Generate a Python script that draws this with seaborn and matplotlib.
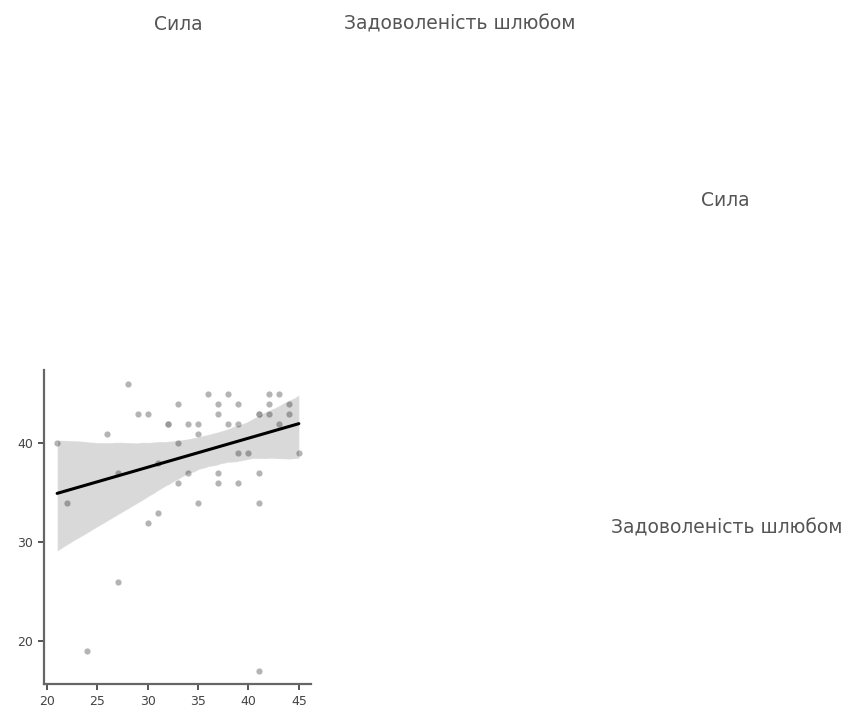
import matplotlib
matplotlib.use('Agg')
import matplotlib.pyplot as plt
import seaborn as sns
import pandas as pd

# Values (Сила vs Задоволеність шлюбом)
strength = [21, 28, 26, 29, 30, 32, 32, 33, 33, 34, 35, 35, 36, 37, 37, 38,
            38, 39, 39, 39, 40, 41, 41, 42, 43, 42, 42, 43, 44, 44, 45, 31,
            27, 34, 37, 41, 33, 37, 39, 22, 35, 41, 31, 30, 27, 24, 41]
satisfaction = [40, 46, 41, 43, 43, 42, 42, 44, 40, 42, 42, 41, 45, 44, 43, 45,
                42, 44, 42, 39, 39, 43, 43, 45, 45, 44, 43, 42, 44, 43, 39, 38,
                37, 37, 37, 37, 36, 36, 36, 34, 34, 34, 33, 32, 26, 19, 17]
var_names = ['Сила', 'Задоволеність шлюбом']
x_ticks = [20, 25, 30, 35, 40, 45]
y_ticks = [20, 30, 40]

df = pd.DataFrame({var_names[0]: strength, var_names[1]: satisfaction})

sns.set_style('white')
plt.rcParams['font.family'] = ['DejaVu Sans']

fig = plt.figure(figsize=(8.5, 7.13), dpi=100)

# lower-left cell of the correlation matrix
ax = fig.add_axes([0.0518, 0.0407, 0.314, 0.440])
sns.regplot(data=df, x=var_names[0], y=var_names[1], ax=ax, color='black',
            seed=3,
            scatter_kws={'color': '#8c8c8c', 'alpha': 0.65, 's': 20, 'linewidths': 0},
            line_kws={'color': 'black', 'linewidth': 2.2})
ax.set_xlim(19.7, 46.2)
ax.set_ylim(15.7, 47.4)
ax.set_xticks(x_ticks)
ax.set_yticks(y_ticks)
ax.set_xlabel('')
ax.set_ylabel('')
for side in ['top', 'right']:
    ax.spines[side].set_visible(False)
for side in ['left', 'bottom']:
    ax.spines[side].set_color('#666666')
    ax.spines[side].set_linewidth(1.6)
ax.tick_params(axis='both', which='both', direction='out', length=4, width=1.4,
               color='#555555', labelsize=9, labelcolor='#444444',
               left=True, bottom=True, pad=4)

# column labels along the top, row labels on the right
label_kw = dict(fontsize=13.5, color='#555555', ha='center', va='center')
fig.text(178 / 850, 1 - 24 / 713, var_names[0], **label_kw)
fig.text(460 / 850, 1 - 24 / 713, var_names[1], **label_kw)
fig.text(725 / 850, 1 - 201 / 713, var_names[0], **label_kw)
fig.text(727 / 850, 1 - 528 / 713, var_names[1], **label_kw)

fig.savefig('out.png', dpi=100)
